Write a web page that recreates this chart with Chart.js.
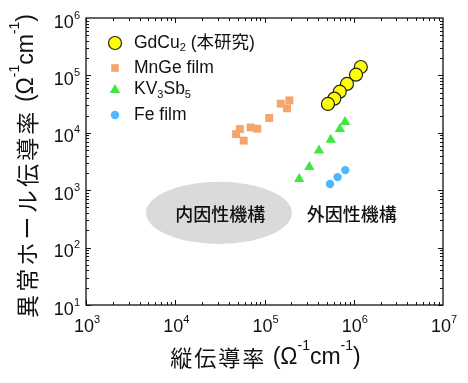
<!DOCTYPE html>
<html><head><meta charset="utf-8">
<script src="https://cdn.jsdelivr.net/npm/chart.js@4/dist/chart.umd.min.js"></script>
<style>html,body{margin:0;padding:0;background:#fff;overflow:hidden}#wrap{width:468px;height:383px;position:relative}</style>
</head><body><div id="wrap"><canvas id="c"></canvas></div>
<script>
// ---- data ----
const seriesNames = ['GdCu2 (本研究)', 'MnGe film', 'KV3Sb5', 'Fe film'];
const gdcuX = [1.2e6, 1.06e6, 8.4e5, 6.97e5, 6.06e5, 5.14e5];
const gdcuY = [1.4e5, 1.03e5, 7.1e4, 5.2e4, 3.94e4, 3.18e4];
const mngeX = [4.8e4, 5.85e4, 5.3e4, 7.0e4, 8.3e4, 1.13e5, 1.52e5, 1.79e5, 1.9e5];
const mngeY = [9.5e3, 7.3e3, 1.16e4, 1.24e4, 1.18e4, 1.81e4, 3.22e4, 2.67e4, 3.67e4];
const kvX = [2.45e5, 3.18e5, 4.08e5, 5.52e5, 7.0e5, 7.98e5];
const kvY = [1.56e3, 2.53e3, 4.93e3, 7.6e3, 1.16e4, 1.54e4];
const feX = [5.42e5, 6.6e5, 8.04e5];
const feY = [1.28e3, 1.69e3, 2.24e3];
const xTickValues = [1e3, 1e4, 1e5, 1e6, 1e7];
const xTickExponents = ['3', '4', '5', '6', '7'];
const yTickValues = [1e1, 1e2, 1e3, 1e4, 1e5, 1e6];
const yTickExponents = ['1', '2', '3', '4', '5', '6'];
const xTitleCJK = '縦伝導率';
const yTitleCJK = '異常ホール伝導率';
const unitText = [[' (Ω', 'n'], ['-1', 'sup'], ['cm', 'n'], ['-1', 'sup'], [')', 'n']];
const regionLabels = ['内因性機構', '外因性機構'];
const regionLabelX = [3.2e4, 9.5e5];
const regionLabelY = [390, 390];
const intrinsicEllipseX = [4.7e3, 2.03e5];
const intrinsicEllipseY = [116, 1400];

const FONT = '"Liberation Sans", Arial, "Noto Sans CJK JP", sans-serif';
const CJK = '"Noto Sans CJK JP", sans-serif';
const colors = {gd: '#ffff00', mn: '#f5a46c', kv: '#3ee83e', fe: '#4db8ff'};

const pts = (xs, ys) => xs.map((x, i) => ({x: x, y: ys[i]}));

// segs: [text, type, optional {size, spacing, family}]
function drawRich(ctx, segs, x, y, size, align) {
  const supSize = Math.round(size * 0.62);
  let total = 0;
  const parts = segs.map(s => {
    const o = s[2] || {};
    const sz = o.size || (s[1] === 'n' ? size : supSize);
    const f = (o.weight ? o.weight + ' ' : '') + sz + 'px ' + (o.family || FONT);
    ctx.font = f;
    ctx.letterSpacing = (o.spacing || 0) + 'px';
    const w = ctx.measureText(s[0]).width;
    ctx.letterSpacing = '0px';
    total += w;
    return {t: s[0], type: s[1], f: f, w: w, sp: o.spacing || 0};
  });
  let cx = align === 'center' ? x - total / 2 : (align === 'right' ? x - total : x);
  ctx.textAlign = 'left';
  for (const p of parts) {
    ctx.font = p.f;
    ctx.letterSpacing = p.sp + 'px';
    let dy = 0;
    if (p.type === 'sup') dy = -size * 0.5;
    if (p.type === 'sub') dy = size * 0.3;
    ctx.fillText(p.t, cx, y + dy);
    cx += p.w;
  }
  ctx.letterSpacing = '0px';
}

function marker(ctx, kind, x, y) {
  ctx.save();
  ctx.beginPath();
  if (kind === 'gd') {
    ctx.arc(x, y, 6.5, 0, Math.PI * 2);
    ctx.fillStyle = colors.gd; ctx.fill();
    ctx.lineWidth = 1.2; ctx.strokeStyle = '#222'; ctx.stroke();
  } else if (kind === 'mn') {
    ctx.fillStyle = colors.mn; ctx.fillRect(x - 3.8, y - 3.8, 7.6, 7.6);
  } else if (kind === 'kv') {
    ctx.moveTo(x, y - 5.5); ctx.lineTo(x + 5.2, y + 3.5); ctx.lineTo(x - 5.2, y + 3.5); ctx.closePath();
    ctx.fillStyle = colors.kv; ctx.fill();
  } else {
    ctx.arc(x, y, 4.2, 0, Math.PI * 2);
    ctx.fillStyle = colors.fe; ctx.fill();
  }
  ctx.restore();
}

const decor = {
  id: 'decor',
  beforeDatasetsDraw(chart) {
    const ctx = chart.ctx, xs = chart.scales.x, ys = chart.scales.y;
    const x1 = xs.getPixelForValue(intrinsicEllipseX[0]), x2 = xs.getPixelForValue(intrinsicEllipseX[1]);
    const y1 = ys.getPixelForValue(intrinsicEllipseY[1]), y2 = ys.getPixelForValue(intrinsicEllipseY[0]);
    ctx.save();
    ctx.beginPath();
    ctx.ellipse((x1 + x2) / 2, (y1 + y2) / 2, (x2 - x1) / 2, (y2 - y1) / 2, 0, 0, Math.PI * 2);
    ctx.fillStyle = '#dadada';
    ctx.fill();
    ctx.fillStyle = '#111';
    ctx.font = '500 18px ' + CJK;
    ctx.textAlign = 'center';
    ctx.textBaseline = 'middle';
    regionLabels.forEach((t, i) => {
      ctx.fillText(t, xs.getPixelForValue(regionLabelX[i]), ys.getPixelForValue(regionLabelY[i]));
    });
    ctx.restore();
  },
  afterDraw(chart) {
    const ctx = chart.ctx, xs = chart.scales.x, ys = chart.scales.y, a = chart.chartArea;
    ctx.save();
    ctx.strokeStyle = '#111';
    ctx.lineWidth = 1.3;
    ctx.strokeRect(a.left, a.top, a.right - a.left, a.bottom - a.top);
    ctx.lineWidth = 1;
    ctx.beginPath();
    for (let e = 3; e < 7; e++) {
      for (let m = 1; m <= 9; m++) {
        const v = m * Math.pow(10, e);
        const px = Math.round(xs.getPixelForValue(v)) + 0.5;
        const len = m === 1 ? 5 : 3;
        ctx.moveTo(px, a.bottom); ctx.lineTo(px, a.bottom - len);
        ctx.moveTo(px, a.top); ctx.lineTo(px, a.top + len);
      }
    }
    for (let e = 1; e < 6; e++) {
      for (let m = 1; m <= 9; m++) {
        const v = m * Math.pow(10, e);
        const py = Math.round(ys.getPixelForValue(v)) + 0.5;
        const len = m === 1 ? 5 : 3;
        ctx.moveTo(a.left, py); ctx.lineTo(a.left + len, py);
        ctx.moveTo(a.right, py); ctx.lineTo(a.right - len, py);
      }
    }
    ctx.stroke();
    ctx.fillStyle = '#111';
    ctx.textBaseline = 'alphabetic';
    xTickValues.forEach((v, i) => {
      drawRich(ctx, [['10', 'n'], [xTickExponents[i], 'sup']], xs.getPixelForValue(v) + 1, a.bottom + 27, 18, 'center');
    });
    yTickValues.forEach((v, i) => {
      drawRich(ctx, [['10', 'n'], [yTickExponents[i], 'sup']], a.left - 6, ys.getPixelForValue(v) + 9.5, 18, 'right');
    });
    ctx.textBaseline = 'middle';
    drawRich(ctx, [[xTitleCJK, 'n', {family: CJK, size: 22, spacing: 2}]].concat(unitText), (a.left + a.right) / 2 + 1, 358, 23, 'center');
    ctx.save();
    ctx.translate(27, 166);
    ctx.rotate(-Math.PI / 2);
    drawRich(ctx, [[yTitleCJK, 'n', {family: CJK, size: 23, spacing: 3.2}]].concat(unitText), 0, 0, 23, 'center');
    ctx.restore();
    const lx = 115, tx = 134, rows = [43, 68, 89.5, 115];
    const kinds = ['gd', 'mn', 'kv', 'fe'];
    const legendText = [
      [['GdCu', 'n'], ['2', 'sub'], [' (本研究)', 'n']],
      [['MnGe film', 'n']],
      [['KV', 'n'], ['3', 'sub'], ['Sb', 'n'], ['5', 'sub']],
      [['Fe film', 'n']]
    ];
    kinds.forEach((k, i) => {
      marker(ctx, k, lx, rows[i]);
      ctx.fillStyle = '#111';
      drawRich(ctx, legendText[i], tx, rows[i], 17.5, 'left');
    });
    ctx.restore();
  }
};

new Chart(document.getElementById('c'), {
  type: 'scatter',
  data: {
    datasets: [
      {label: seriesNames[1], data: pts(mngeX, mngeY), pointStyle: 'rect', pointRadius: 5.6, backgroundColor: colors.mn, borderWidth: 0},
      {label: seriesNames[2], data: pts(kvX, kvY), pointStyle: 'triangle', pointRadius: 6, backgroundColor: colors.kv, borderWidth: 0},
      {label: seriesNames[3], data: pts(feX, feY), pointStyle: 'circle', pointRadius: 4.2, backgroundColor: colors.fe, borderWidth: 0},
      {label: seriesNames[0], data: pts(gdcuX, gdcuY), pointStyle: 'circle', pointRadius: 6.5, backgroundColor: colors.gd, borderColor: '#222', borderWidth: 1.2}
    ]
  },
  options: {
    responsive: true,
    maintainAspectRatio: false,
    animation: false,
    layout: {padding: {left: 86, top: 18, right: 25, bottom: 78}},
    plugins: {legend: {display: false}, tooltip: {enabled: false}},
    scales: {
      x: {type: 'logarithmic', min: 1e3, max: 1e7, display: false},
      y: {type: 'logarithmic', min: 1e1, max: 1e6, display: false}
    }
  },
  plugins: [decor]
});
</script>
</body></html>
